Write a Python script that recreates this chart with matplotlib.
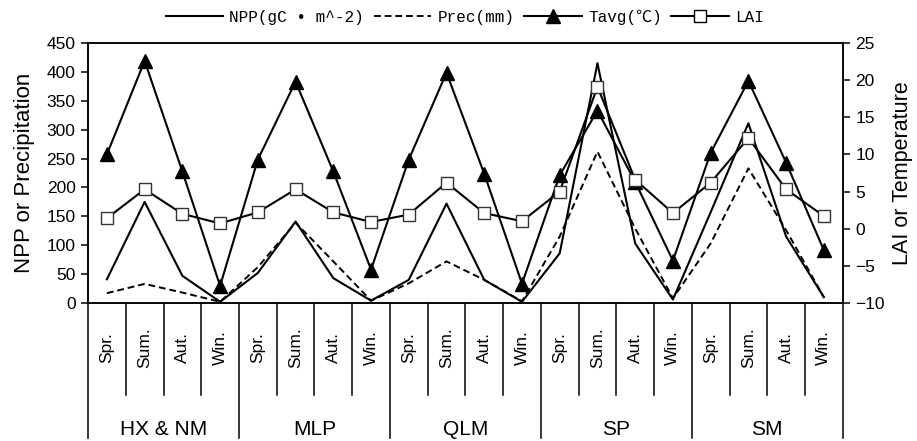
import numpy as np
import matplotlib.pyplot as plt
from matplotlib.lines import Line2D

# Данные: 5 районов x 4 сезона
regions = ['HX & NM', 'MLP', 'QLM', 'SP', 'SM']
seasons = ['Spr.', 'Sum.', 'Aut.', 'Win.']

npp = [41, 175, 47, 2, 52, 141, 43, 4, 40, 172, 40, 2, 86, 415, 103, 6, 157, 311, 115, 10]
prec = [17, 33, 18, 2, 62, 139, 72, 4, 34, 72, 40, 3, 115, 262, 129, 8, 103, 233, 126, 10]
tavg = [10.0, 22.6, 7.7, -7.7, 9.3, 19.8, 7.7, -5.5, 9.3, 21.0, 7.4, -7.4,
        7.2, 15.9, 6.3, -4.3, 10.2, 19.9, 8.9, -2.9]
lai = [1.4, 5.3, 2.0, 0.7, 2.2, 5.3, 2.2, 0.9, 1.9, 6.2, 2.1, 1.0,
       5.0, 19.1, 6.6, 2.1, 6.2, 12.2, 5.3, 1.7]

plt.rcParams['font.family'] = ['Liberation Sans', 'DejaVu Sans']

fig = plt.figure(figsize=(9.17, 4.41), dpi=100)
ax = fig.add_axes([0.096, 0.313, 0.823, 0.5895])
ax2 = ax.twinx()

x = np.arange(len(npp))

ax.plot(x, npp, color='black', lw=1.5)
ax.plot(x, prec, color='black', lw=1.4, ls=(0, (3.5, 2)))
ax2.plot(x, tavg, color='black', lw=1.5, marker='^', ms=9.5, mfc='black')
ax2.plot(x, lai, color='black', lw=1.5, marker='s', ms=8.5, mfc='white',
         mec='#333333', mew=1.0)

ax.set_xlim(-0.5, len(npp) - 0.5)
ax.set_ylim(0, 450)
ax.set_yticks(range(0, 451, 50))
ax2.set_ylim(-10, 25)
ax2.set_yticks(range(-10, 26, 5))
ax.set_xticks([])

for a in (ax, ax2):
    a.tick_params(axis='y', labelsize=12.5, length=5, width=1.1, direction='out', pad=4)
    for s in a.spines.values():
        s.set_linewidth(1.1)

ax.set_ylabel('NPP or Precipitation', fontsize=16, labelpad=8)
ax2.set_ylabel('LAI or Temperature', fontsize=15.5, labelpad=5)

# Разделители и подписи под осью
tr = ax.get_xaxis_transform()
for k in range(len(npp) + 1):
    bottom = -0.519 if k % 4 == 0 else -0.354
    ax.plot([k - 0.5, k - 0.5], [0, bottom], transform=tr, clip_on=False,
            color='black', lw=1.1)

for i in range(len(npp)):
    ax.text(i, -0.173, seasons[i % 4], rotation=90, transform=tr,
            ha='center', va='center', fontsize=12.5)

for g, name in enumerate(regions):
    ax.text(4 * g + 1.5, -0.488, name, transform=tr, ha='center',
            va='center', fontsize=15)

# Легенда
handles = [
    Line2D([], [], color='black', lw=1.5),
    Line2D([], [], color='black', lw=1.4, ls=(0, (3.5, 2))),
    Line2D([], [], color='black', lw=1.5, marker='^', ms=9.5),
    Line2D([], [], color='black', lw=1.5, marker='s', ms=8.5, mfc='white', mew=1.0),
]
labels = ['NPP(gC • m^-2)', 'Prec(mm)', 'Tavg(℃)', 'LAI']
fig.legend(handles, labels, loc='center', bbox_to_anchor=(0.507, 0.961),
           ncol=4, frameon=False, handlelength=3.6, handletextpad=0.4,
           columnspacing=0.6, borderaxespad=0,
           prop={'family': ['Liberation Mono', 'Noto Sans CJK SC'], 'size': 11.5})

plt.savefig('out.png')
